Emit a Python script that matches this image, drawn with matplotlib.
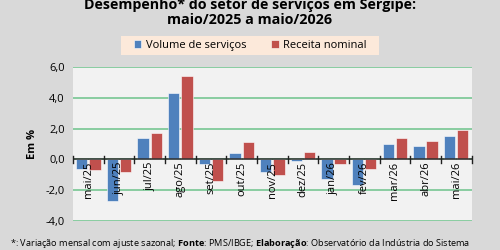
import numpy as np
import matplotlib.pyplot as plt
from matplotlib.patches import Rectangle

# ── Data ──────────────────────────────────────────────────────────────────────
meses = ["mai/25", "jun/25", "jul/25", "ago/25", "set/25", "out/25", "nov/25",
         "dez/25", "jan/26", "fev/26", "mar/26", "abr/26", "mai/26"]
volume = [-0.6, -2.7, 1.4, 4.3, -0.3, 0.4, -0.8, -0.1, -1.3, -1.7, 1.0, 0.9, 1.5]
receita = [-0.7, -0.8, 1.7, 5.4, -1.4, 1.1, -1.0, 0.5, -0.3, -0.6, 1.4, 1.2, 1.9]
yticks = [-4, -2, 0, 2, 4, 6]

BLUE = "#4f81bd"
RED = "#c0504d"
GRID = "#6cc38a"

plt.rcParams['font.family'] = ['Open Sans', 'DejaVu Sans']
plt.rcParams['mathtext.fontset'] = 'custom'
plt.rcParams['mathtext.rm'] = 'Open Sans'
plt.rcParams['mathtext.bf'] = 'Open Sans:bold'

fig = plt.figure(figsize=(5, 2.5), dpi=100)
fig.patch.set_facecolor("#d9d9d9")
ax = fig.add_axes([0.146, 0.117, 0.797, 0.614])
ax.set_facecolor("#f2f2f2")

x = np.arange(len(meses))
w = 0.37
ax.bar(x - 0.215, volume, w, color=BLUE, edgecolor="white", linewidth=0.4,
       label="Volume de serviços", zorder=3)
ax.bar(x + 0.215, receita, w, color=RED, edgecolor="white", linewidth=0.4,
       label="Receita nominal", zorder=3)

ax.set_xlim(-0.5, len(meses) - 0.5)
ax.set_ylim(-4, 6)
ax.set_yticks(yticks)
ax.set_yticklabels([f"{v:.1f}".replace(".", ",") for v in yticks], fontsize=8)
ax.yaxis.grid(True, color=GRID, linewidth=1.1, zorder=1)
ax.tick_params(axis="y", length=0, pad=6)
for s in ax.spines.values():
    s.set_visible(False)

# zero line with category ticks
ax.axhline(0, color="#303030", linewidth=1.1, zorder=4)
ax.set_xticks([])
for b in np.arange(-0.5, len(meses), 1.0):
    ax.plot([b, b], [-0.22, 0.22], color="#202020", lw=1.0, zorder=4, clip_on=False)
for i, m in enumerate(meses):
    ax.text(i, -0.15, m, rotation=90, ha="center", va="top", fontsize=8,
            zorder=5)

ax.set_ylabel("Em %", fontsize=8, fontweight="bold", labelpad=5)

# legend box
fig.patches.append(Rectangle((0.242, 0.78), 0.516, 0.076, transform=fig.transFigure,
                             facecolor="#fce9da", edgecolor="none"))
h, l = ax.get_legend_handles_labels()
fig.legend(h, l, loc="center", bbox_to_anchor=(0.5, 0.818), ncol=2, frameon=False,
           fontsize=8, handlelength=0.7, handleheight=0.7, columnspacing=2.2,
           handletextpad=0.4)

fig.text(0.5, 0.978, "Desempenho* do setor de serviços em Sergipe:", ha="center",
         va="center", fontsize=10.3, fontweight="bold")
fig.text(0.5, 0.918, "maio/2025 a maio/2026", ha="center", va="center",
         fontsize=10.3, fontweight="bold")

foot = (r"*: Variação mensal com ajuste sazonal; $\mathbf{Fonte}$: PMS/IBGE; "
        r"$\mathbf{Elaboração}$: Observatório da Indústria do Sistema")
fig.text(0.02, 0.028, foot, fontsize=6.6, va="center")

fig.savefig("out.png", dpi=100, facecolor=fig.get_facecolor())
